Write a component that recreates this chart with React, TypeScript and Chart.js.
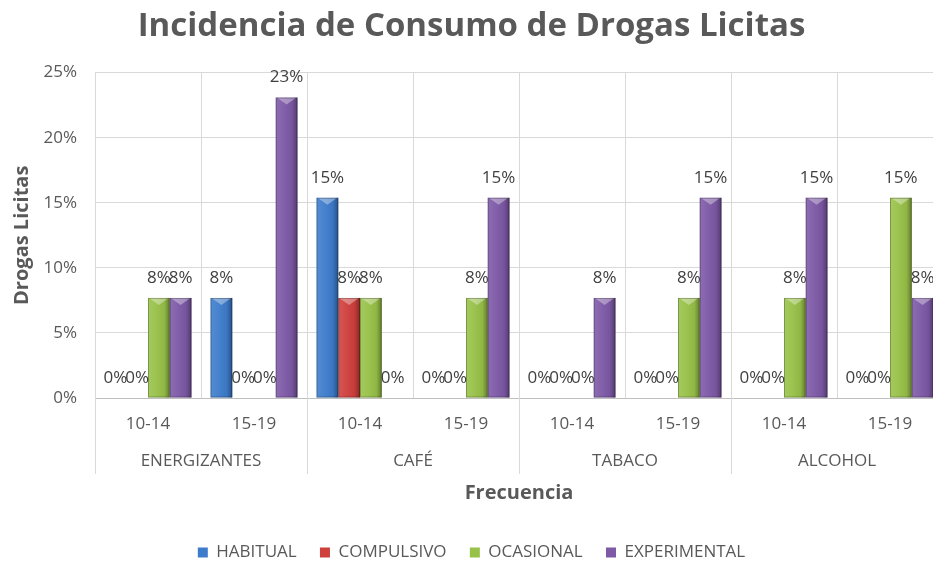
import React, { useEffect, useRef } from "react";
import { Chart, registerables } from "chart.js";

Chart.register(...registerables);

const ageGroups = ["10-14", "15-19"];
const drugGroups = ["ENERGIZANTES", "CAFÉ", "TABACO", "ALCOHOL"];
const seriesNames = ["HABITUAL", "COMPULSIVO", "OCASIONAL", "EXPERIMENTAL"];
const seriesColors = ["#3d7ccb", "#cf3f3c", "#98c148", "#7d59a6"];

const habitual = [0, 7.69, 15.38, 0, 0, 0, 0, 0];
const compulsivo = [0, 0, 7.69, 0, 0, 0, 0, 0];
const ocasional = [7.69, 0, 7.69, 7.69, 0, 7.69, 7.69, 15.38];
const experimental = [7.69, 23.08, 0, 15.38, 7.69, 15.38, 15.38, 7.69];

const yTicks = [0, 5, 10, 15, 20, 25];

const FONT = "'Open Sans', sans-serif";

const labels: string[] = [];
drugGroups.forEach(() => ageGroups.forEach((a) => labels.push(a)));

const barStyle = {
  id: "barStyle",
  afterDatasetsDraw(chart: any) {
    const ctx = chart.ctx;
    ctx.save();
    chart.data.datasets.forEach((_: any, di: number) => {
      const meta = chart.getDatasetMeta(di);
      meta.data.forEach((el: any) => {
        const { x, y, base, width } = el.getProps(["x", "y", "base", "width"], true);
        const h = base - y;
        if (h <= 0.5) return;
        const l = x - width / 2;
        const r = x + width / 2;
        const g = ctx.createLinearGradient(l, 0, r, 0);
        g.addColorStop(0, "rgba(255,255,255,0.12)");
        g.addColorStop(0.35, "rgba(255,255,255,0.05)");
        g.addColorStop(0.75, "rgba(0,0,0,0.05)");
        g.addColorStop(1, "rgba(0,0,0,0.35)");
        ctx.fillStyle = g;
        ctx.fillRect(l, y, width, h);
        const t = Math.min(7, h);
        ctx.beginPath();
        ctx.moveTo(l + 1, y);
        ctx.lineTo(r - 1, y);
        ctx.lineTo(x, y + t);
        ctx.closePath();
        ctx.fillStyle = "rgba(255,255,255,0.35)";
        ctx.fill();
        ctx.strokeStyle = "rgba(0,0,0,0.25)";
        ctx.lineWidth = 1;
        ctx.strokeRect(l + 0.5, y + 0.5, width - 1, h - 1);
      });
    });
    ctx.restore();
  },
};

const dataLabels = {
  id: "dataLabels",
  afterDatasetsDraw(chart: any) {
    const ctx = chart.ctx;
    ctx.save();
    ctx.font = `17px ${FONT}`;
    ctx.fillStyle = "#404040";
    ctx.textAlign = "center";
    ctx.textBaseline = "middle";
    chart.data.datasets.forEach((ds: any, di: number) => {
      const meta = chart.getDatasetMeta(di);
      meta.data.forEach((el: any, i: number) => {
        const v = ds.data[i];
        ctx.fillText(`${Math.round(v)}%`, el.x, el.y - 20);
      });
    });
    ctx.restore();
  },
};

const groupAxis = {
  id: "groupAxis",
  afterDraw(chart: any) {
    const ctx = chart.ctx;
    const xs = chart.scales.x;
    const bottom = chart.chartArea.bottom;
    const n = ageGroups.length;
    const half = (xs.getPixelForValue(1) - xs.getPixelForValue(0)) / 2;
    ctx.save();
    ctx.strokeStyle = "#d9d9d9";
    ctx.lineWidth = 1;
    ctx.font = `17px ${FONT}`;
    ctx.fillStyle = "#595959";
    ctx.textAlign = "center";
    ctx.textBaseline = "middle";
    drugGroups.forEach((g, gi) => {
      const left = xs.getPixelForValue(gi * n) - half;
      const right = xs.getPixelForValue(gi * n + n - 1) + half;
      const edges = gi === drugGroups.length - 1 ? [left, right] : [left];
      edges.forEach((ex) => {
        const px = Math.round(ex) + 0.5;
        ctx.beginPath();
        ctx.moveTo(px, bottom);
        ctx.lineTo(px, bottom + 76);
        ctx.stroke();
      });
      ctx.fillText(g, (left + right) / 2, bottom + 63);
    });
    ctx.restore();
  },
};

export default function App() {
  const ref = useRef<HTMLCanvasElement>(null);
  useEffect(() => {
    if (!ref.current) return;
    const seriesData = [habitual, compulsivo, ocasional, experimental];
    const chart = new Chart(ref.current, {
      type: "bar",
      data: {
        labels,
        datasets: seriesNames.map((name, i) => ({
          label: name,
          data: seriesData[i],
          backgroundColor: seriesColors[i],
          borderWidth: 0,
          categoryPercentage: 0.82,
          barPercentage: 1.0,
        })),
      },
      options: {
        responsive: false,
        animation: false,
        devicePixelRatio: 1,
        layout: { padding: { left: 0, right: 7, top: 0, bottom: -8 } },
        plugins: {
          title: {
            display: true,
            text: "Incidencia de Consumo de Drogas Licitas",
            color: "#595959",
            font: { family: FONT, size: 33, weight: "bold" },
            padding: { top: 7, bottom: 26 },
          },
          legend: {
            position: "bottom",
            labels: {
              color: "#595959",
              font: { family: FONT, size: 17 },
              boxWidth: 10,
              boxHeight: 10,
              padding: 10,
              generateLabels: (chart: any) => {
                const items = Chart.defaults.plugins.legend.labels.generateLabels(chart);
                return items.map((it: any, i: number) => ({
                  ...it,
                  text: i < items.length - 1 ? it.text + "   " : it.text,
                  lineWidth: 0,
                }));
              },
            },
          },
          tooltip: { enabled: false },
        },
        scales: {
          x: {
            grid: { color: "#d9d9d9", offset: true, drawTicks: false },
            border: { display: true, color: "#bfbfbf" },
            ticks: {
              color: "#595959",
              font: { family: FONT, size: 17 },
              padding: 16,
              maxRotation: 0,
              autoSkip: false,
            },
            title: {
              display: true,
              text: "Frecuencia",
              color: "#595959",
              font: { family: FONT, size: 20, weight: "bold" },
              padding: { top: 0, bottom: 29 },
            },
            afterFit: (s: any) => {
              s.height = 136;
            },
          },
          y: {
            min: 0,
            max: 25,
            afterBuildTicks: (s: any) => {
              s.ticks = yTicks.map((v) => ({ value: v }));
            },
            grid: { color: "#d9d9d9", drawTicks: false },
            border: { display: false },
            ticks: {
              color: "#595959",
              font: { family: FONT, size: 17 },
              padding: 18,
              callback: (v: any) => `${v}%`,
            },
            title: {
              display: true,
              text: "Drogas Licitas",
              color: "#595959",
              font: { family: FONT, size: 20, weight: "bold" },
              padding: { top: 10, bottom: 0 },
            },
            afterFit: (s: any) => {
              s.width = 95;
            },
          },
        },
      },
      plugins: [barStyle, dataLabels, groupAxis],
    });
    return () => chart.destroy();
  }, []);
  return (
    <div style={{ position: "fixed", left: 0, top: 0, width: 933, height: 563, overflow: "hidden", background: "#fff" }}>
      <canvas ref={ref} width={950} height={563} style={{ display: "block" }} />
    </div>
  );
}
